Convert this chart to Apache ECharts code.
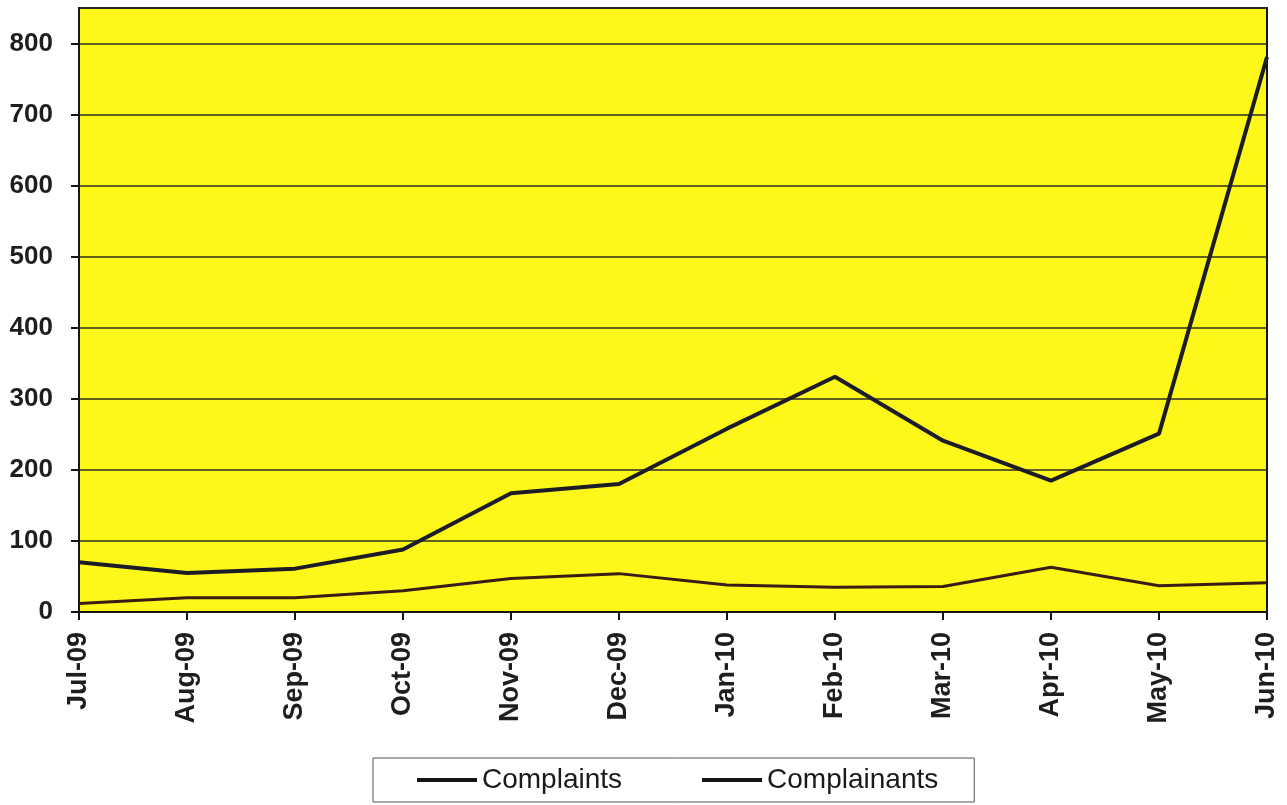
<!DOCTYPE html>
<html>
<head>
<meta charset="utf-8">
<script src="https://cdn.jsdelivr.net/npm/echarts@6/dist/echarts.min.js"></script>
<style>
html,body{margin:0;padding:0;background:#ffffff;}
#chart{width:1287px;height:805px;}
</style>
</head>
<body>
<div id="chart"></div>
<script>
const categories = ['Jul-09','Aug-09','Sep-09','Oct-09','Nov-09','Dec-09','Jan-10','Feb-10','Mar-10','Apr-10','May-10','Jun-10'];
const complaints = [70, 55, 61, 88, 167, 180, 258, 331, 241, 185, 251, 781];
const complainants = [12, 20, 20, 30, 47, 54, 38, 35, 36, 63, 37, 41];
const yTicks = {min: 0, max: 850, interval: 100};

const chart = echarts.init(document.getElementById('chart'));
const font = '"Liberation Sans", Arial, sans-serif';
chart.setOption({
  animation: false,
  backgroundColor: '#ffffff',
  grid: {
    left: 79, right: 20, top: 8, bottom: 193,
    show: true, backgroundColor: '#fdf71a', borderColor: '#151515', borderWidth: 2
  },
  legend: {
    left: 373, top: 758,
    padding: [8, 36, 8, 44],
    itemGap: 80,
    itemWidth: 60, itemHeight: 4,
    icon: 'rect',
    borderColor: '#555', borderWidth: 1,
    textStyle: {fontFamily: font, fontSize: 28, color: '#1a1a1a'},
    data: [
      {name: 'Complaints', itemStyle: {color: '#151515'}},
      {name: 'Complainants', itemStyle: {color: '#151515'}}
    ]
  },
  xAxis: {
    type: 'category',
    data: categories,
    boundaryGap: false,
    axisLine: {lineStyle: {color: '#151515', width: 2}},
    axisTick: {show: true, length: 8, lineStyle: {color: '#151515', width: 2}},
    axisLabel: {rotate: 90, margin: 20, fontFamily: font, fontSize: 27, fontWeight: 'bold', color: '#1e1e1e'},
    splitLine: {show: false}
  },
  yAxis: {
    type: 'value',
    min: yTicks.min, max: yTicks.max, interval: yTicks.interval,
    axisLine: {show: true, lineStyle: {color: '#151515', width: 2}},
    axisTick: {show: true, length: 8, lineStyle: {color: '#151515', width: 2}},
    axisLabel: {showMaxLabel: false, margin: 26, fontFamily: font, fontSize: 26, fontWeight: 'bold', color: '#1e1e1e'},
    splitLine: {show: true, lineStyle: {color: '#2e2e1e', width: 1.5}}
  },
  series: [
    {
      name: 'Complaints', type: 'line', data: complaints,
      symbol: 'none', lineStyle: {color: '#1c1c26', width: 4},
      itemStyle: {color: '#151515'}
    },
    {
      name: 'Complainants', type: 'line', data: complainants,
      symbol: 'none', lineStyle: {color: '#3a1c14', width: 3},
      itemStyle: {color: '#151515'}
    }
  ]
});
</script>
</body>
</html>
